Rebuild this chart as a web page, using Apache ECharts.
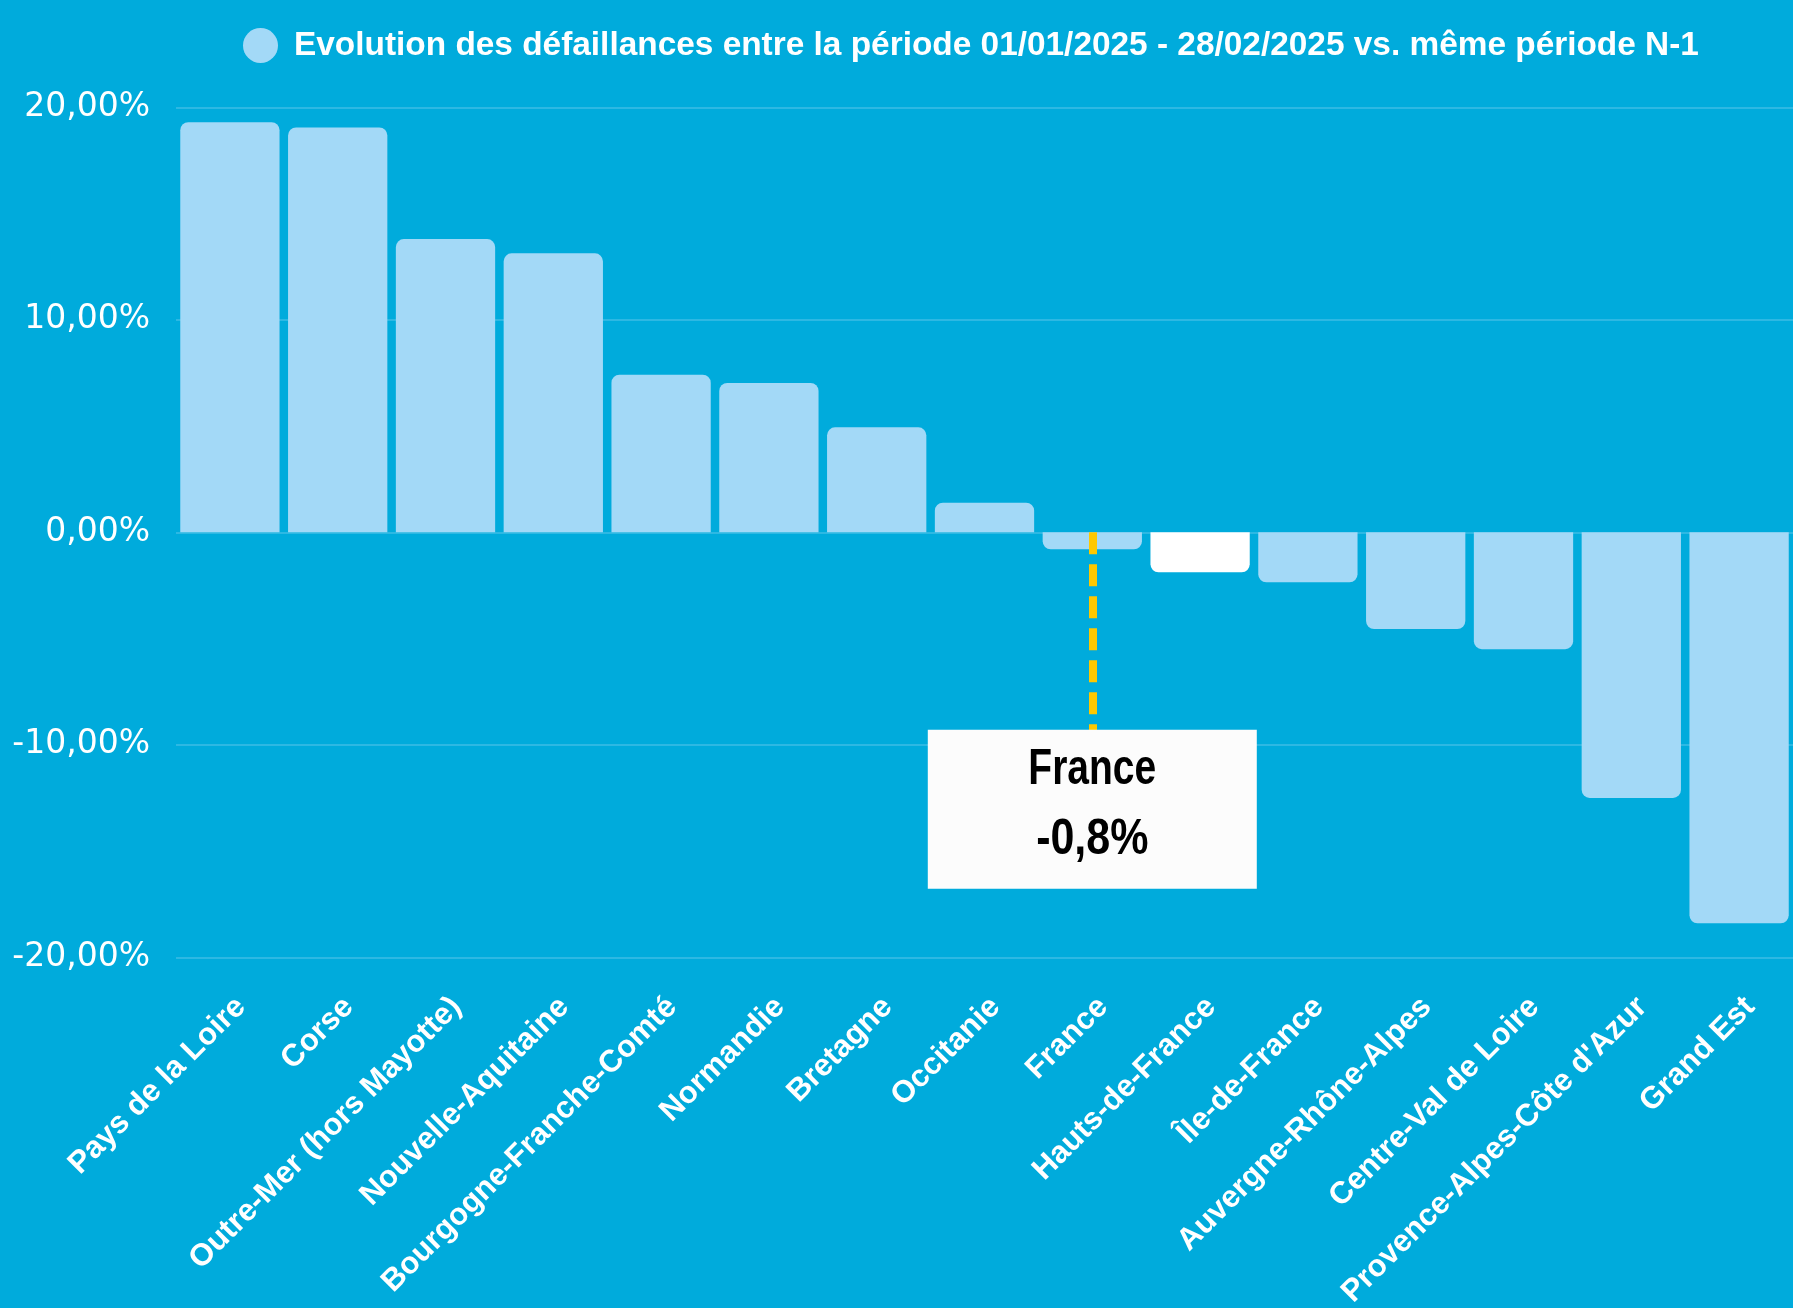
<!DOCTYPE html>
<html>
<head>
<meta charset="utf-8">
<script src="https://cdn.jsdelivr.net/npm/echarts@6/dist/echarts.min.js"></script>
<style>
  html, body { margin: 0; padding: 0; background: #00abdc; }
  #main { width: 1793px; height: 1308px; }
</style>
</head>
<body>
<div id="main"></div>
<script>
// régions, triées par évolution
var categories = ['Pays de la Loire', 'Corse', 'Outre-Mer (hors Mayotte)', 'Nouvelle-Aquitaine',
    'Bourgogne-Franche-Comté', 'Normandie', 'Bretagne', 'Occitanie', 'France', 'Hauts-de-France',
    'Île-de-France', 'Auvergne-Rhône-Alpes', 'Centre-Val de Loire', 'Provence-Alpes-Côte d\'Azur', 'Grand Est'];
var values = [19.3, 19.05, 13.8, 13.13, 7.42, 7.03, 4.94, 1.39, -0.8, -1.88, -2.35, -4.55, -5.5, -12.5, -18.4];
var yTicks = [-20, -10, 0, 10, 20];
var seriesName = 'Evolution des défaillances entre la période 01/01/2025 - 28/02/2025 vs. même période N-1';
var highlighted = 'Hauts-de-France';
var reference = 'France';

var barColor = '#a3d9f7';
// encadré France : bas du pointillé, centre de la boîte (en %)
var boxTop = -9.3;
var boxCenter = -13.03;

var data = values.map(function (v, i) {
    var item = { value: v, itemStyle: { borderRadius: v >= 0 ? [8, 8, 0, 0] : [0, 0, 8, 8] } };
    if (categories[i] === highlighted) item.itemStyle.color = '#ffffff';
    return item;
});

var refValue = values[categories.indexOf(reference)];
var fmt = function (v, d) { return v.toFixed(d).replace('.', ',') + '%'; };

var myChart = echarts.init(document.getElementById('main'));
var option = {
    backgroundColor: '#00abdc',
    animation: false,
    legend: {
        left: 238,
        top: 23,
        icon: 'circle',
        itemWidth: 35,
        itemHeight: 35,
        textStyle: {
            color: '#ffffff',
            fontFamily: 'Liberation Sans',
            fontWeight: 'bold',
            fontSize: 33.4,
            padding: [0, 0, 0, 11]
        },
        data: [seriesName]
    },
    grid: {
        left: 176,
        right: 0,
        top: 107.3,
        bottom: 350.7,
        outerBoundsMode: 'none'
    },
    xAxis: {
        type: 'category',
        data: categories,
        axisLine: { show: false },
        axisTick: { show: false },
        axisLabel: {
            interval: 0,
            rotate: 45,
            margin: 34,
            verticalAlign: 'top',
            color: '#ffffff',
            fontFamily: 'Liberation Sans',
            fontWeight: 'bold',
            fontSize: 31
        }
    },
    yAxis: {
        type: 'value',
        min: yTicks[0],
        max: yTicks[yTicks.length - 1],
        interval: 10,
        axisLine: { show: false },
        axisTick: { show: false },
        axisLabel: {
            margin: 26,
            color: '#ffffff',
            fontFamily: 'DejaVu Sans',
            fontSize: 33,
            formatter: function (v) { return fmt(v, 2); }
        },
        splitLine: { lineStyle: { color: '#3dbde6', width: 1.5 } }
    },
    series: [{
        name: seriesName,
        type: 'bar',
        data: data,
        barCategoryGap: '7.9%',
        itemStyle: { color: barColor },
        markLine: {
            silent: true,
            symbol: 'none',
            label: { show: false },
            lineStyle: { color: '#ffc800', width: 8, type: [22, 10], opacity: 1 },
            data: [[{ coord: [reference, 0] }, { coord: [reference, boxTop] }]]
        },
        markPoint: {
            silent: true,
            symbol: 'rect',
            symbolSize: [329, 159],
            itemStyle: { color: '#fcfcfc' },
            label: { show: false },
            data: [{ coord: [reference, boxCenter] }]
        }
    }]
};
myChart.setOption(option);

// texte condensé de l'encadré, placé via l'échelle de la grille
var p = myChart.convertToPixel({ gridIndex: 0 }, [reference, boxCenter]);
var txt = function (text, dy, sx) {
    return {
        type: 'text',
        x: p[0],
        y: p[1] + dy,
        scaleX: sx,
        z: 100,
        silent: true,
        style: {
            text: text,
            fill: '#000000',
            font: 'bold 50px "Liberation Sans", sans-serif',
            align: 'center',
            verticalAlign: 'middle',
            textAlign: 'center',
            textVerticalAlign: 'middle'
        }
    };
};
myChart.setOption({
    graphic: [txt(reference, -39, 0.78), txt(fmt(refValue, 1), 31, 0.86)]
});
</script>
</body>
</html>
